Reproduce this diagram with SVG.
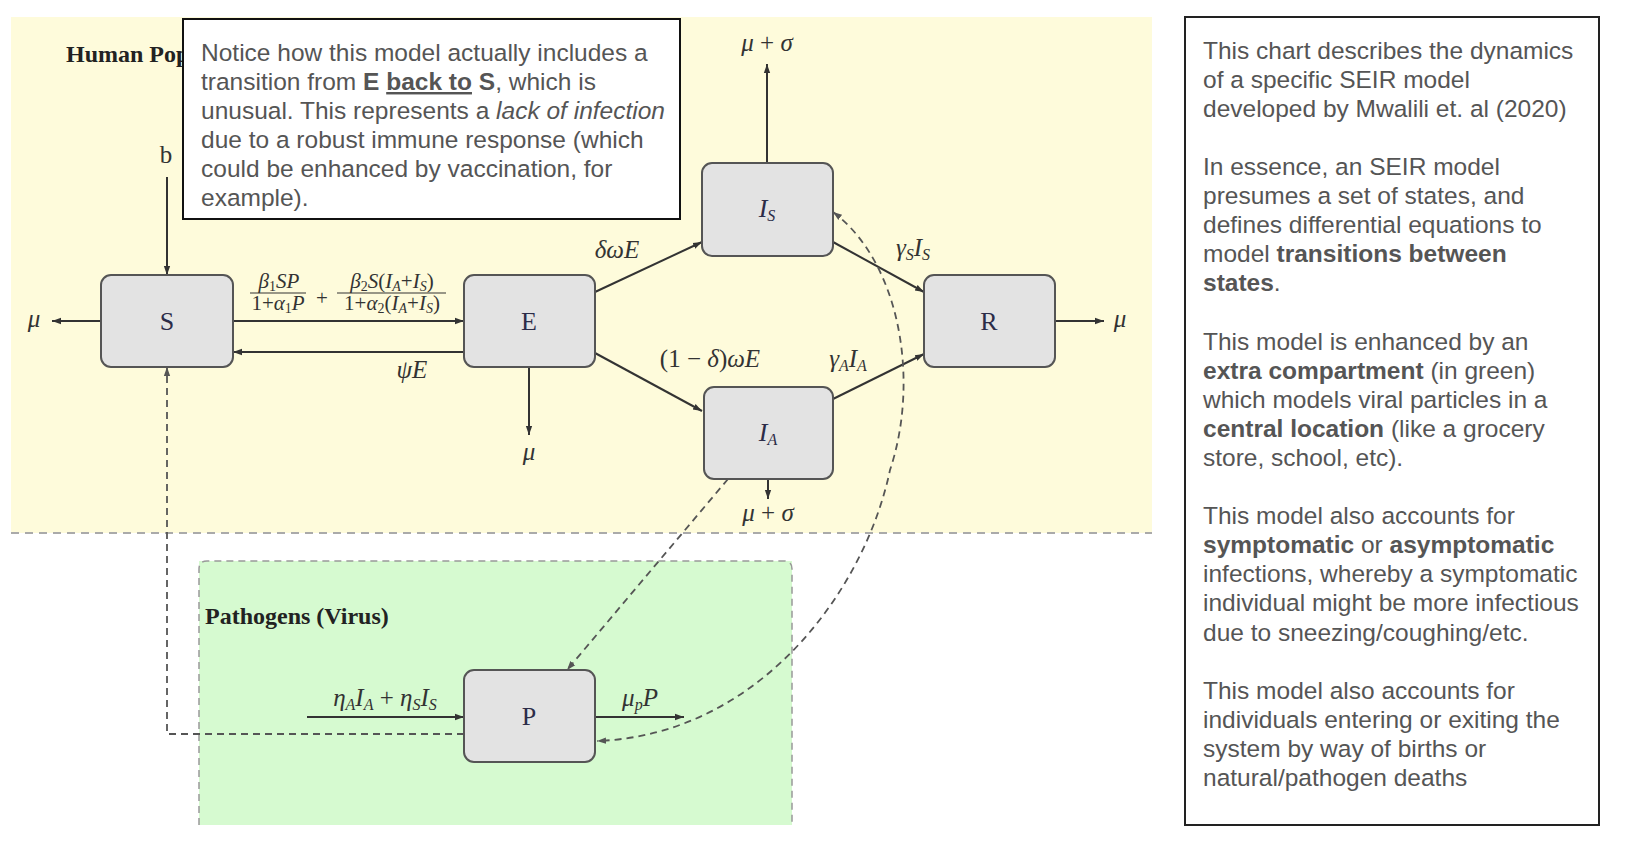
<svg xmlns="http://www.w3.org/2000/svg" width="1630" height="856" viewBox="0 0 1630 856">
<defs>
<style>
.node rect{fill:#e3e3e3;stroke:#555;stroke-width:2}
.nl{font-family:"Liberation Serif",serif;font-size:26px;fill:#2c2c48;text-anchor:middle}
.m{font-family:"Liberation Serif",serif;font-style:italic;font-size:25px;fill:#333;text-anchor:middle}
.mf{font-family:"Liberation Serif",serif;font-style:italic;font-size:21px;fill:#333;text-anchor:middle}
.up{font-style:normal}
.sub{font-size:16px}
.subf{font-size:14px}
.solid{stroke:#333;stroke-width:2;fill:none}
.dash{stroke:#555;stroke-width:1.8;fill:none;stroke-dasharray:7 5}
.note{font-family:"Liberation Sans",Arial,sans-serif;font-size:24.5px;fill:#555}
.b{font-weight:bold}
.grp{font-family:"Liberation Serif",serif;font-weight:bold;font-size:24px;fill:#222}
</style>
<marker id="ah" viewBox="0 0 10 10" refX="10" refY="5" markerWidth="9" markerHeight="9" markerUnits="userSpaceOnUse" orient="auto-start-reverse"><path d="M0,1.5 L10,5 L0,8.5 z" fill="#333"/></marker>
<marker id="ahd" viewBox="0 0 10 10" refX="10" refY="5" markerWidth="9" markerHeight="9" markerUnits="userSpaceOnUse" orient="auto-start-reverse"><path d="M0,1.5 L10,5 L0,8.5 z" fill="#555"/></marker>
</defs>

<rect width="1630" height="856" fill="#ffffff"/>

<g id="human-population">
<rect x="11" y="17" width="1141" height="516" fill="#fefbdb"/>
<line x1="11" y1="533" x2="1152" y2="533" stroke="#aaa" stroke-width="2" stroke-dasharray="8 6"/>
<text class="grp" x="66" y="62">Human Pop</text>
</g>

<g id="pathogens">
<rect x="199" y="561" width="593" height="264" fill="#d6fad0"/>
<path d="M199,825 V569 Q199,561 207,561 H784 Q792,561 792,569 V825" fill="none" stroke="#999" stroke-width="1.5" stroke-dasharray="7 5"/>
<text class="grp" x="205" y="624">Pathogens (Virus)</text>
</g>

<g id="connectors">
<path class="solid" d="M167,177 V275" marker-end="url(#ah)"/>
<path class="solid" d="M101,321 H52" marker-end="url(#ah)"/>
<path class="solid" d="M233,321 H464" marker-end="url(#ah)"/>
<path class="solid" d="M464,352 H233" marker-end="url(#ah)"/>
<path class="solid" d="M529,367 V435" marker-end="url(#ah)"/>
<path class="solid" d="M595,292 L702,242" marker-end="url(#ah)"/>
<path class="solid" d="M595,353 L702,411" marker-end="url(#ah)"/>
<path class="solid" d="M833,242 L924,292" marker-end="url(#ah)"/>
<path class="solid" d="M833,399 L924,354" marker-end="url(#ah)"/>
<path class="solid" d="M767,163 V64" marker-end="url(#ah)"/>
<path class="solid" d="M768,479 V499" marker-end="url(#ah)"/>
<path class="solid" d="M1055,321 H1104" marker-end="url(#ah)"/>
<path class="solid" d="M307,717 H464" marker-end="url(#ah)"/>
<path class="solid" d="M595,717 H684" marker-end="url(#ah)"/>
<path class="dash" d="M464,734 H167 V367" marker-end="url(#ahd)"/>
<path class="dash" d="M728,479 L567,670" marker-end="url(#ahd)"/>
<path class="dash" d="M833,212 C900,262 920,380 890,470 C865,590 760,735 597,741" marker-start="url(#ahd)" marker-end="url(#ahd)"/>
</g>

<g id="edge-labels">
<text class="m up" x="166" y="163">b</text>
<text class="m" x="34" y="327">μ</text>
<text class="mf" x="279" y="288">β<tspan class="subf up" dy="3">1</tspan><tspan dy="-3">SP</tspan></text>
<line x1="250" y1="293" x2="306" y2="293" stroke="#333" stroke-width="1.2"/>
<text class="mf" x="278" y="310"><tspan class="up">1+</tspan>α<tspan class="subf up" dy="3">1</tspan><tspan dy="-3">P</tspan></text>
<text class="mf up" x="322" y="305" font-size="26">+</text>
<text class="mf" x="392" y="288">β<tspan class="subf up" dy="3">2</tspan><tspan dy="-3">S</tspan><tspan class="up">(</tspan>I<tspan class="subf" dy="3">A</tspan><tspan class="up" dy="-3">+</tspan>I<tspan class="subf" dy="3">S</tspan><tspan class="up" dy="-3">)</tspan></text>
<line x1="337" y1="293" x2="446" y2="293" stroke="#333" stroke-width="1.2"/>
<text class="mf" x="392" y="310"><tspan class="up">1+</tspan>α<tspan class="subf up" dy="3">2</tspan><tspan class="up" dy="-3">(</tspan>I<tspan class="subf" dy="3">A</tspan><tspan class="up" dy="-3">+</tspan>I<tspan class="subf" dy="3">S</tspan><tspan class="up" dy="-3">)</tspan></text>
<text class="m" x="412" y="378">ψE</text>
<text class="m" x="529" y="460">μ</text>
<text class="m" x="617" y="258">δωE</text>
<text class="m" x="710" y="367"><tspan class="up">(1 − </tspan>δ<tspan class="up">)</tspan>ωE</text>
<text class="m" x="913" y="256">γ<tspan class="sub" dy="4">S</tspan><tspan dy="-4">I</tspan><tspan class="sub" dy="4">S</tspan></text>
<text class="m" x="848" y="367">γ<tspan class="sub" dy="4">A</tspan><tspan dy="-4">I</tspan><tspan class="sub" dy="4">A</tspan></text>
<text class="m" x="767" y="51">μ<tspan class="up"> + </tspan>σ</text>
<text class="m" x="768" y="521">μ<tspan class="up"> + </tspan>σ</text>
<text class="m" x="1120" y="327">μ</text>
<text class="m" x="385" y="706">η<tspan class="sub" dy="4">A</tspan><tspan dy="-4">I</tspan><tspan class="sub" dy="4">A</tspan><tspan class="up" dy="-4"> + </tspan>η<tspan class="sub" dy="4">S</tspan><tspan dy="-4">I</tspan><tspan class="sub" dy="4">S</tspan></text>
<text class="m" x="640" y="706">μ<tspan class="sub" dy="4">p</tspan><tspan dy="-4">P</tspan></text>
</g>

<g id="node-S" class="node"><rect x="101" y="275" width="132" height="92" rx="10"/><text class="nl" x="167" y="330">S</text></g>
<g id="node-E" class="node"><rect x="464" y="275" width="131" height="92" rx="10"/><text class="nl" x="529" y="330">E</text></g>
<g id="node-IS" class="node"><rect x="702" y="163" width="131" height="93" rx="10"/><text class="nl" x="767" y="217" font-style="italic">I<tspan class="sub" dy="4">S</tspan></text></g>
<g id="node-IA" class="node"><rect x="704" y="387" width="129" height="92" rx="10"/><text class="nl" x="768" y="441" font-style="italic">I<tspan class="sub" dy="4">A</tspan></text></g>
<g id="node-R" class="node"><rect x="924" y="275" width="131" height="92" rx="10"/><text class="nl" x="989" y="330">R</text></g>
<g id="node-P" class="node"><rect x="464" y="670" width="131" height="92" rx="10"/><text class="nl" x="529" y="725">P</text></g>

<g id="note-box">
<rect x="183" y="19" width="497" height="200" fill="#ffffff" stroke="#111" stroke-width="2"/>
<text class="note" x="201" y="61">Notice how this model actually includes a</text>
<text class="note" x="201" y="90">transition from <tspan class="b">E</tspan> <tspan class="b" text-decoration="underline">back to</tspan> <tspan class="b">S</tspan>, which is</text>
<text class="note" x="201" y="119">unusual. This represents a <tspan font-style="italic">lack of infection</tspan></text>
<text class="note" x="201" y="148">due to a robust immune response (which</text>
<text class="note" x="201" y="177">could be enhanced by vaccination, for</text>
<text class="note" x="201" y="206">example).</text>
</g>

<g id="description-box">
<rect x="1185" y="17" width="414" height="808" fill="#ffffff" stroke="#222" stroke-width="2"/>
<text class="note" x="1203" y="58.5">This chart describes the dynamics</text>
<text class="note" x="1203" y="87.6">of a specific SEIR model</text>
<text class="note" x="1203" y="116.7">developed by Mwalili et. al (2020)</text>
<text class="note" x="1203" y="174.9">In essence, an SEIR model</text>
<text class="note" x="1203" y="204">presumes a set of states, and</text>
<text class="note" x="1203" y="233.1">defines differential equations to</text>
<text class="note" x="1203" y="262.2">model <tspan class="b">transitions between</tspan></text>
<text class="note" x="1203" y="291.3"><tspan class="b">states</tspan>.</text>
<text class="note" x="1203" y="349.5">This model is enhanced by an</text>
<text class="note" x="1203" y="378.6"><tspan class="b">extra compartment</tspan> (in green)</text>
<text class="note" x="1203" y="407.7">which models viral particles in a</text>
<text class="note" x="1203" y="436.8"><tspan class="b">central location</tspan> (like a grocery</text>
<text class="note" x="1203" y="465.9">store, school, etc).</text>
<text class="note" x="1203" y="524.1">This model also accounts for</text>
<text class="note" x="1203" y="553.2"><tspan class="b">symptomatic</tspan> or <tspan class="b">asymptomatic</tspan></text>
<text class="note" x="1203" y="582.3">infections, whereby a symptomatic</text>
<text class="note" x="1203" y="611.4">individual might be more infectious</text>
<text class="note" x="1203" y="640.5">due to sneezing/coughing/etc.</text>
<text class="note" x="1203" y="698.7">This model also accounts for</text>
<text class="note" x="1203" y="727.8">individuals entering or exiting the</text>
<text class="note" x="1203" y="756.9">system by way of births or</text>
<text class="note" x="1203" y="786">natural/pathogen deaths</text>
</g>
</svg>
